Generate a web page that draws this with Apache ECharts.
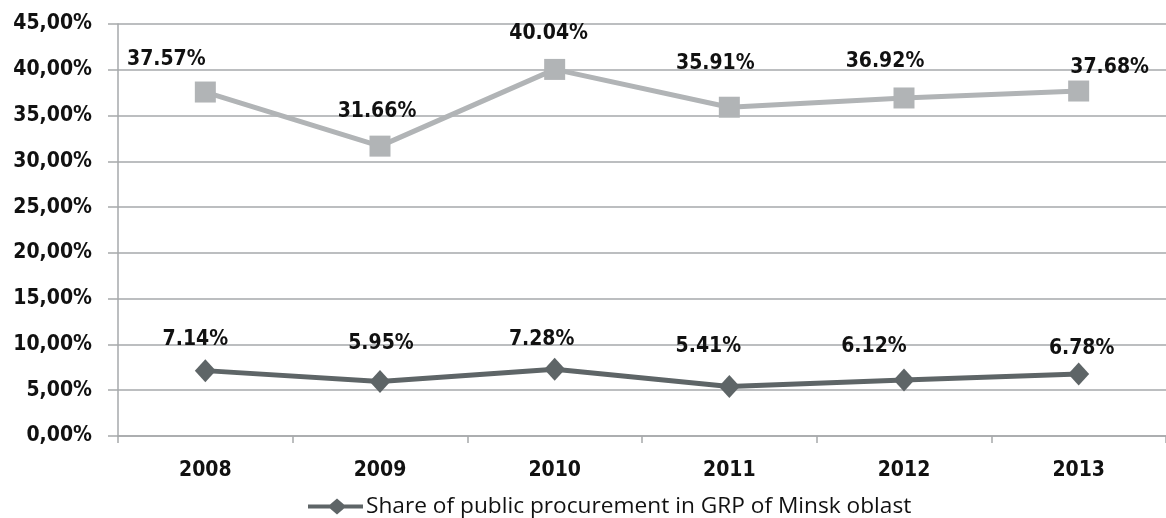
<!DOCTYPE html>
<html>
<head>
<meta charset="utf-8">
<script src="https://cdn.jsdelivr.net/npm/echarts@6/dist/echarts.min.js"></script>
<style>html,body{margin:0;padding:0;background:#fff}#c{width:1166px;height:518px}</style>
</head>
<body>
<div id="c"></div>
<script>
const categories = ['2008', '2009', '2010', '2011', '2012', '2013'];
const upperSeriesName = 'Share of public procurement in GRP (total)';
const upperValues = [37.57, 31.66, 40.04, 35.91, 36.92, 37.68];
const minskSeriesName = 'Share of public procurement in GRP of Minsk oblast';
const minskValues = [7.14, 5.95, 7.28, 5.41, 6.12, 6.78];
const yTicks = { min: 0, max: 45, interval: 5 };

// label placement (style only)
const upperLabelOffsets = [[-39, -32], [-3, -35], [-6, -36], [-14, -44], [-19, -36], [31, -23]];
const minskLabelOffsets = [[-10, -31], [1, -38], [-13, -30], [-21, -40], [-30, -33], [3, -25]];

const labelFont = { fontFamily: "'DejaVu Sans Condensed', 'DejaVu Sans'", fontWeight: 'bold', fontSize: 21, color: '#111' };

function mkData(vals, offs) {
  return vals.map((v, i) => ({
    value: v,
    label: { offset: offs[i] }
  }));
}

const chart = echarts.init(document.getElementById('c'), null, { renderer: 'canvas' });
chart.setOption({
  animation: false,
  backgroundColor: '#fff',
  grid: { left: 118, top: 24, width: 1056, height: 412, containLabel: false },
  legend: {
    data: [minskSeriesName],
    left: 308,
    top: 495,
    padding: 0,
    itemWidth: 55,
    itemHeight: 16,
    itemGap: 10,
    icon: 'path://M0,6 L22,6 L29,0 L36,6 L55,6 L55,10 L36,10 L29,16 L22,10 L0,10 Z',
    textStyle: { fontFamily: 'Open Sans', fontSize: 22.7, color: '#111', padding: [0, 0, 0, -2] }
  },
  xAxis: {
    type: 'category',
    data: categories,
    boundaryGap: true,
    axisLine: { show: true, lineStyle: { color: '#a6a9ab', width: 1.5 } },
    axisTick: { show: true, length: 7, lineStyle: { color: '#a6a9ab', width: 1.5 } },
    axisLabel: { margin: 24, ...labelFont }
  },
  yAxis: {
    type: 'value',
    min: yTicks.min,
    max: yTicks.max,
    interval: yTicks.interval,
    axisLine: { show: true, lineStyle: { color: '#a6a9ab', width: 1.5 } },
    axisTick: { show: true, length: 10, lineStyle: { color: '#a6a9ab', width: 1.5 } },
    splitLine: { show: true, lineStyle: { color: '#a6a9ab', width: 1.5 } },
    axisLabel: {
      margin: 26,
      ...labelFont,
      formatter: v => v.toFixed(2).replace('.', ',') + '%'
    }
  },
  series: [
    {
      name: upperSeriesName,
      type: 'line',
      data: mkData(upperValues, upperLabelOffsets),
      symbol: 'rect',
      symbolSize: 21,
      lineStyle: { color: '#b1b4b6', width: 5 },
      itemStyle: { color: '#b1b4b6' },
      label: { show: true, position: 'inside', ...labelFont, formatter: p => p.value.toFixed(2) + '%' },
      z: 2
    },
    {
      name: minskSeriesName,
      type: 'line',
      data: mkData(minskValues, minskLabelOffsets),
      symbol: 'diamond',
      symbolSize: [21, 23],
      lineStyle: { color: '#5e6567', width: 5 },
      itemStyle: { color: '#5e6567' },
      label: { show: true, position: 'inside', ...labelFont, formatter: p => p.value.toFixed(2) + '%' },
      z: 3
    }
  ]
});
</script>
</body>
</html>
